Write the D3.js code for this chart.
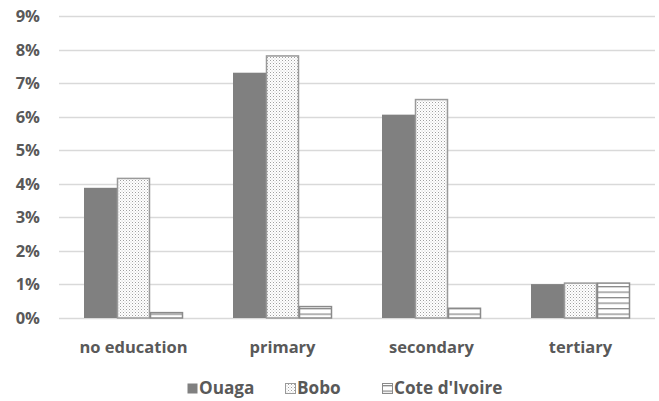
<!DOCTYPE html>
<html><head><meta charset="utf-8">
<script src="https://cdn.jsdelivr.net/npm/d3@7"></script>
<style>body{margin:0;background:#fff}svg{display:block}</style>
</head><body><svg id="c" width="659" height="401"></svg>
<script>
const categories = ["no education","primary","secondary","tertiary"];
const seriesNames = ["Ouaga","Bobo","Cote d'Ivoire"];
const ouaga = [3.88, 7.31, 6.06, 1.01];
const bobo = [4.16, 7.81, 6.51, 1.04];
const cote = [0.16, 0.34, 0.29, 1.04];
const yTicks = [0,1,2,3,4,5,6,7,8,9];

(function(){
const series = [ouaga, bobo, cote];
const svg = d3.select("#c");
const defs = svg.append("defs");
const pd = defs.append("pattern").attr("id","dots").attr("patternUnits","userSpaceOnUse").attr("width",3).attr("height",3);
pd.append("rect").attr("width",3).attr("height",3).attr("fill","#fff");
pd.append("rect").attr("x",0).attr("y",0).attr("width",1).attr("height",1).attr("fill","#a0a0a0");
pd.append("rect").attr("x",1.5).attr("y",1.5).attr("width",1).attr("height",1).attr("fill","#c8c8c8");
const ph = defs.append("pattern").attr("id","hlines").attr("patternUnits","userSpaceOnUse").attr("width",6).attr("height",5.5);
ph.append("rect").attr("width",6).attr("height",5.5).attr("fill","#fff");
ph.append("rect").attr("x",0).attr("y",0).attr("width",6).attr("height",1.3).attr("fill","#8a8a8a");

const fills = ["#808080","url(#dots)","url(#hlines)"];
const strokes = ["none","#9a9a9a","#8a8a8a"];

const mLeft = 59, mRight = 655, mTop = 16, mBottom = 318;
const x = d3.scaleBand().domain(categories).range([mLeft,mRight]);
const y = d3.scaleLinear().domain([0,9]).range([mBottom,mTop]);
const groupW = 99;
const xs = d3.scaleBand().domain(seriesNames).range([0,groupW]);

const font = "'Open Sans', Lato, sans-serif";
svg.append("g").selectAll("line").data(yTicks).join("line")
  .attr("x1",mLeft).attr("x2",mRight)
  .attr("y1",d=>Math.round(y(d))+0.5).attr("y2",d=>Math.round(y(d))+0.5)
  .attr("stroke","#d9d9d9").attr("stroke-width",1.3);

svg.append("g").selectAll("text").data(yTicks).join("text")
  .attr("x",40).attr("y",d=>y(d)+6).attr("text-anchor","end")
  .attr("font-family",font).attr("font-weight","bold").attr("font-size",16.5).attr("fill","#595959")
  .text(d=>d+"%");

series.forEach((vals,si)=>{
  svg.append("g").selectAll("rect").data(vals).join("rect")
    .attr("x",(d,i)=>x(categories[i]) + (x.bandwidth()-groupW)/2 + xs(seriesNames[si]) + (si>0?0.5:0))
    .attr("width",xs.bandwidth() - (si>0?1:0))
    .attr("y",d=>y(d)).attr("height",d=>y(0)-y(d))
    .attr("fill",fills[si]).attr("stroke",strokes[si]).attr("stroke-width",si>0?1.5:0);
});

svg.append("g").selectAll("text").data(categories).join("text")
  .attr("x",d=>x(d)+x.bandwidth()/2).attr("y",353).attr("text-anchor","middle")
  .attr("font-family",font).attr("font-weight","bold").attr("font-size",16.5).attr("fill","#595959")
  .text(d=>d);

const legX = [187, 285, 382];
const lg = svg.append("g");
seriesNames.forEach((n,i)=>{
  lg.append("rect").attr("x",legX[i]+0.5).attr("y",383.5).attr("width",10).attr("height",10)
    .attr("fill",fills[i]).attr("stroke",strokes[i]).attr("stroke-width",1);
  lg.append("text").attr("x",legX[i]+12).attr("y",394)
    .attr("font-family",font).attr("font-weight","bold").attr("font-size",17.2).attr("fill","#595959").text(n);
});
})();
</script></body></html>
